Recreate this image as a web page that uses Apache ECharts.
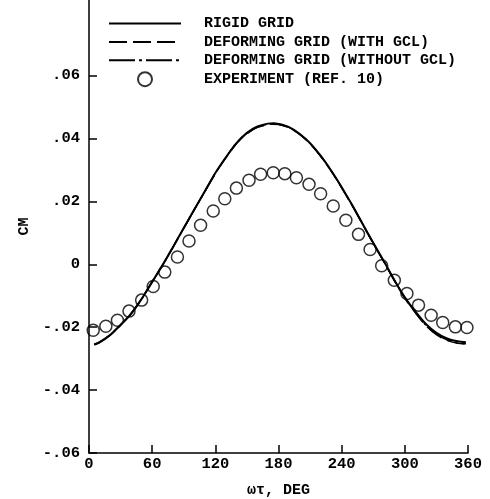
<!DOCTYPE html>
<html>
<head>
<meta charset="utf-8">
<script src="https://cdn.jsdelivr.net/npm/echarts@6/dist/echarts.min.js"></script>
<style>
html, body { margin: 0; padding: 0; background: #fff; }
#container { width: 490px; height: 499px; }
</style>
</head>
<body>
<div id="container"></div>
<script>
var dom = document.getElementById('container');
var myChart = echarts.init(dom, null, { renderer: 'canvas' });

var seriesNames = ['RIGID GRID', 'DEFORMING GRID (WITH GCL)', 'DEFORMING GRID (WITHOUT GCL)', 'EXPERIMENT (REF. 10)'];

// computed curves, wt in deg
var curveDeg = [5, 10, 20, 30, 40, 50, 60, 70, 80, 90, 100, 110, 120, 130, 140, 150, 160, 170, 175,
    180, 190, 200, 210, 220, 230, 240, 250, 260, 270, 280, 290, 300, 310, 320, 330, 340, 350, 358];
var rigidCm = [-0.0255, -0.0248, -0.0225, -0.0193, -0.0157, -0.0110, -0.0056, -0.0002, 0.0056, 0.0115,
    0.0174, 0.0232, 0.0290, 0.0340, 0.0385, 0.0418, 0.0438, 0.0447, 0.0448,
    0.0446, 0.0436, 0.0415, 0.0385, 0.0345, 0.0298, 0.0245, 0.0188, 0.0128, 0.0068, 0.0010,
    -0.0050, -0.0105, -0.0150, -0.0190, -0.0218, -0.0236, -0.0245, -0.0248];
var gclCm = [-0.0254, -0.0247, -0.0224, -0.0192, -0.0156, -0.0109, -0.0055, -0.0002, 0.0056, 0.0115,
    0.0174, 0.0231, 0.0288, 0.0338, 0.0383, 0.0415, 0.0435, 0.0444, 0.0445,
    0.0444, 0.0434, 0.0413, 0.0383, 0.0343, 0.0296, 0.0243, 0.0186, 0.0126, 0.0066, 0.0008,
    -0.0052, -0.0108, -0.0154, -0.0195, -0.0224, -0.0242, -0.0251, -0.0253];
var noGclCm = [-0.0256, -0.0249, -0.0226, -0.0194, -0.0158, -0.0111, -0.0057, -0.0003, 0.0055, 0.0114,
    0.0173, 0.0231, 0.0289, 0.0339, 0.0384, 0.0416, 0.0436, 0.0445, 0.0446,
    0.0445, 0.0435, 0.0414, 0.0384, 0.0344, 0.0297, 0.0244, 0.0187, 0.0127, 0.0067, 0.0009,
    -0.0051, -0.0107, -0.0153, -0.0194, -0.0222, -0.0240, -0.0250, -0.0253];

// experiment points
var expDeg = [4, 16, 27, 38, 50, 61, 72, 84, 95, 106, 118, 129, 140, 152, 163, 175,
    186, 197, 209, 220, 232, 244, 256, 267, 278, 290, 302, 313, 325, 336, 348, 359];
var expCm = [-0.0210, -0.0197, -0.0178, -0.0149, -0.0114, -0.0071, -0.0025, 0.0023, 0.0074, 0.0124,
    0.0169, 0.0208, 0.0242, 0.0267, 0.0286, 0.0291, 0.0288, 0.0275, 0.0254, 0.0224, 0.0185,
    0.0140, 0.0095, 0.0047, -0.0005, -0.0051, -0.0093, -0.0130, -0.0162, -0.0185, -0.0199, -0.0201];

var xTicks = [0, 60, 120, 180, 240, 300, 360];
var yTicks = [-0.06, -0.04, -0.02, 0, 0.02, 0.04, 0.06];

function pairs(xs, ys) {
    return xs.map(function (x, i) { return [x, ys[i]]; });
}

function cmLabel(v) {
    if (Math.abs(v) < 1e-9) return '0';
    var s = Math.abs(v).toFixed(2).replace(/^0/, '');
    return (v < 0 ? '-' : '') + s;
}

var font = 'Liberation Mono';
var hideSymbol = { opacity: 0 };

var option = {
    animation: false,
    backgroundColor: '#fff',
    textStyle: { fontFamily: font, color: '#000', fontWeight: 'bold' },
    grid: { left: 89, right: 22, top: 0, bottom: 46, outerBoundsMode: 'none' },
    legend: {
        orient: 'vertical',
        left: 108,
        top: 16,
        padding: 0,
        itemWidth: 72,
        itemHeight: 14,
        itemGap: 3.4,
        data: [
            { name: seriesNames[0], itemStyle: hideSymbol },
            { name: seriesNames[1], itemStyle: hideSymbol },
            { name: seriesNames[2], itemStyle: hideSymbol },
            { name: seriesNames[3] }
        ],
        textStyle: { fontFamily: font, fontSize: 15, fontWeight: 'bold', color: '#000', padding: [0, 0, 0, 18] }
    },
    xAxis: {
        type: 'value',
        min: 0,
        max: 360,
        interval: 60,
        name: 'ωτ, DEG',
        nameLocation: 'middle',
        nameGap: 30,
        nameTextStyle: { fontFamily: font, fontSize: 15, fontWeight: 'bold', color: '#000' },
        splitLine: { show: false },
        axisLine: { onZero: false, lineStyle: { color: '#000', width: 1.5 } },
        axisTick: { inside: true, length: 8, lineStyle: { color: '#000', width: 1.5 }, customValues: xTicks },
        axisLabel: { color: '#000', fontSize: 15.5, fontWeight: 'bold', margin: 3, customValues: xTicks }
    },
    yAxis: {
        type: 'value',
        min: -0.06,
        max: 0.084,
        name: 'CM',
        nameLocation: 'middle',
        nameGap: 54,
        nameTextStyle: { fontFamily: font, fontSize: 15, fontWeight: 'bold', color: '#000' },
        splitLine: { show: false },
        axisLine: { onZero: false, lineStyle: { color: '#000', width: 1.5 } },
        axisTick: { inside: true, length: 8, lineStyle: { color: '#000', width: 1.5 }, customValues: yTicks },
        axisLabel: { color: '#000', fontSize: 15.5, fontWeight: 'bold', margin: 9, customValues: yTicks, formatter: cmLabel }
    },
    series: [
        {
            name: seriesNames[0],
            type: 'line',
            symbol: 'none',
            smooth: 0.3,
            lineStyle: { color: '#000', width: 2, type: 'solid' },
            data: pairs(curveDeg, rigidCm)
        },
        {
            name: seriesNames[1],
            type: 'line',
            symbol: 'none',
            smooth: 0.3,
            lineStyle: { color: '#000', width: 1.5, type: [18, 6] },
            data: pairs(curveDeg, gclCm)
        },
        {
            name: seriesNames[2],
            type: 'line',
            symbol: 'none',
            smooth: 0.3,
            lineStyle: { color: '#000', width: 1.5, type: [26, 4, 3, 4] },
            data: pairs(curveDeg, noGclCm)
        },
        {
            name: seriesNames[3],
            type: 'scatter',
            symbol: 'circle',
            symbolSize: 12,
            itemStyle: { color: 'rgba(0,0,0,0)', borderColor: '#000', borderWidth: 1.5 },
            data: pairs(expDeg, expCm)
        }
    ]
};

myChart.setOption(option);
window.addEventListener('resize', myChart.resize);
</script>
</body>
</html>
